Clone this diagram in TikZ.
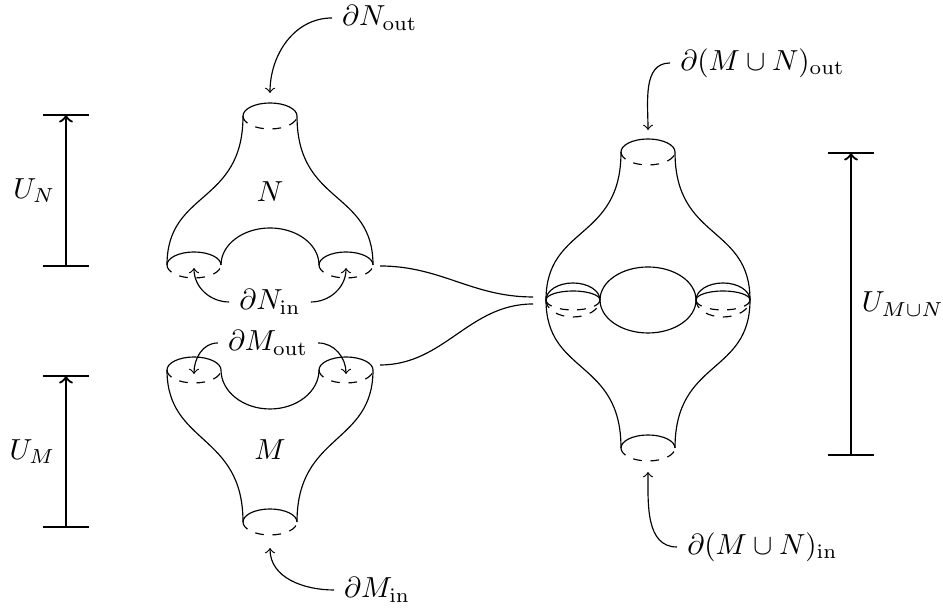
\documentclass[tikz,border=0pt]{standalone}
\begin{document}
\begin{tikzpicture}[x=0.345pt,y=0.345pt,
    rim/.style={x radius=27,y radius=13}]
      \useasboundingbox (0,0) rectangle (943,610);
      % N
      \draw (243,494) arc[start angle=180,end angle=0,rim];
      \draw[dashed] (243,494) arc[start angle=180,end angle=360,rim];
      \draw (243,494) .. controls (243,405) and (167,420) .. (167,345);
      \draw (297,494) .. controls (297,405) and (373,420) .. (373,345);
      \draw (167,345) arc[start angle=180,end angle=0,rim];
      \draw[dashed] (167,345) arc[start angle=180,end angle=360,rim];
      \draw (221,345) arc[start angle=180,end angle=0,x radius=49,y radius=37];
      \draw (319,345) arc[start angle=180,end angle=0,rim];
      \draw[dashed] (319,345) arc[start angle=180,end angle=360,rim];
      \node (N) at (270,418) {$N$};
      % M
      \draw (167,240) arc[start angle=180,end angle=0,rim];
      \draw[dashed] (167,240) arc[start angle=180,end angle=360,rim];
      \draw (319,240) arc[start angle=180,end angle=0,rim];
      \draw[dashed] (319,240) arc[start angle=180,end angle=360,rim];
      \draw (221,240) arc[start angle=180,end angle=360,x radius=49,y radius=39];
      \draw (167,240) .. controls (167,165) and (243,177) .. (243,88);
      \draw (373,240) .. controls (373,165) and (297,177) .. (297,88);
      \draw (243,88) arc[start angle=180,end angle=0,rim];
      \draw[dashed] (243,88) arc[start angle=180,end angle=360,rim];
      \node (M) at (270,160) {$M$};
      % M union N
      \draw (621,458) arc[start angle=180,end angle=0,rim];
      \draw[dashed] (621,458) arc[start angle=180,end angle=360,rim];
      \draw (621,458) .. controls (621,369) and (546,385) .. (546,310)
        .. controls (546,235) and (621,251) .. (621,162);
      \draw (675,458) .. controls (675,369) and (750,385) .. (750,310)
        .. controls (750,235) and (675,251) .. (675,162);
      \draw (621,162) arc[start angle=180,end angle=0,rim];
      \draw[dashed] (621,162) arc[start angle=180,end angle=360,rim];
      \draw (648,310) ellipse[x radius=48,y radius=33];
      \draw (546,310) arc[start angle=180,end angle=0,x radius=27,y radius=17];
      \draw (546,310) arc[start angle=180,end angle=0,x radius=27,y radius=9];
      \draw[dashed] (546,310) arc[start angle=180,end angle=360,x radius=27,y radius=10];
      \draw[dashed] (546,310) arc[start angle=180,end angle=360,x radius=27,y radius=17];
      \draw (696,310) arc[start angle=180,end angle=0,x radius=27,y radius=17];
      \draw (696,310) arc[start angle=180,end angle=0,x radius=27,y radius=9];
      \draw[dashed] (696,310) arc[start angle=180,end angle=360,x radius=27,y radius=10];
      \draw[dashed] (696,310) arc[start angle=180,end angle=360,x radius=27,y radius=17];
      % gluing
      \coordinate (Nr) at (380,344);
      \coordinate (Mr) at (380,245);
      \coordinate (Ru) at (533,313);
      \coordinate (Rl) at (533,306);
      \draw (Nr) to[out=0,in=180] (Ru);
      \draw (Mr) to[out=0,in=180] (Rl);
      % boundary labels
      \node[anchor=west] (dNout) at (332,592) {$\partial N_{\mathrm{out}}$};
      \node (dNin) at (270,308) {$\partial N_{\mathrm{in}}$};
      \node (dMout) at (268,267) {$\partial M_{\mathrm{out}}$};
      \node[anchor=west] (dMin) at (334,20) {$\partial M_{\mathrm{in}}$};
      \node[anchor=west] (dRout) at (670,547) {$\partial (M\cup N)_{\mathrm{out}}$};
      \node[anchor=west] (dRin) at (677,63) {$\partial (M\cup N)_{\mathrm{in}}$};
      \coordinate (tNout) at (270,517);
      \coordinate (tNin1) at (194,342);
      \coordinate (tNin2) at (346,342);
      \coordinate (tMout1) at (194,236);
      \coordinate (tMout2) at (346,236);
      \coordinate (tMin) at (270,62);
      \coordinate (tRout) at (648,480);
      \coordinate (tRin) at (648,138);
      \begin{scope}[->]
        \draw (dNout.west) to[out=180,in=90] (tNout);
        \draw (dNin.west) to[out=180,in=-90] (tNin1);
        \draw (dNin.east) to[out=0,in=-90] (tNin2);
        \draw (dMout.west) to[out=180,in=90] (tMout1);
        \draw (dMout.east) to[out=0,in=90] (tMout2);
        \draw (dMin.west) to[out=180,in=-90] (tMin);
        \draw (dRout.west) to[out=180,in=90] (tRout);
        \draw (dRin.west) to[out=180,in=-90] (tRin);
      \end{scope}
      % heights
      \coordinate (UNb) at (66,344);
      \coordinate (UNt) at (66,495);
      \coordinate (UMb) at (66,83);
      \coordinate (UMt) at (66,234);
      \coordinate (URb) at (851,155);
      \coordinate (URt) at (851,457);
      \draw (UNb) +(-23,0) -- +(23,0) (UNt) +(-23,0) -- +(23,0);
      \draw (UMb) +(-23,0) -- +(23,0) (UMt) +(-23,0) -- +(23,0);
      \draw (URb) +(-23,0) -- +(23,0) (URt) +(-23,0) -- +(23,0);
      \draw[thick,->] (UNb) -- (UNt) node[midway,left] {$U_N$};
      \draw[thick,->] (UMb) -- (UMt) node[midway,left] {$U_M$};
      \draw[thick,->] (URb) -- (URt) node[midway,right] {$U_{M\cup N}$};
    \end{tikzpicture}
\end{document}
